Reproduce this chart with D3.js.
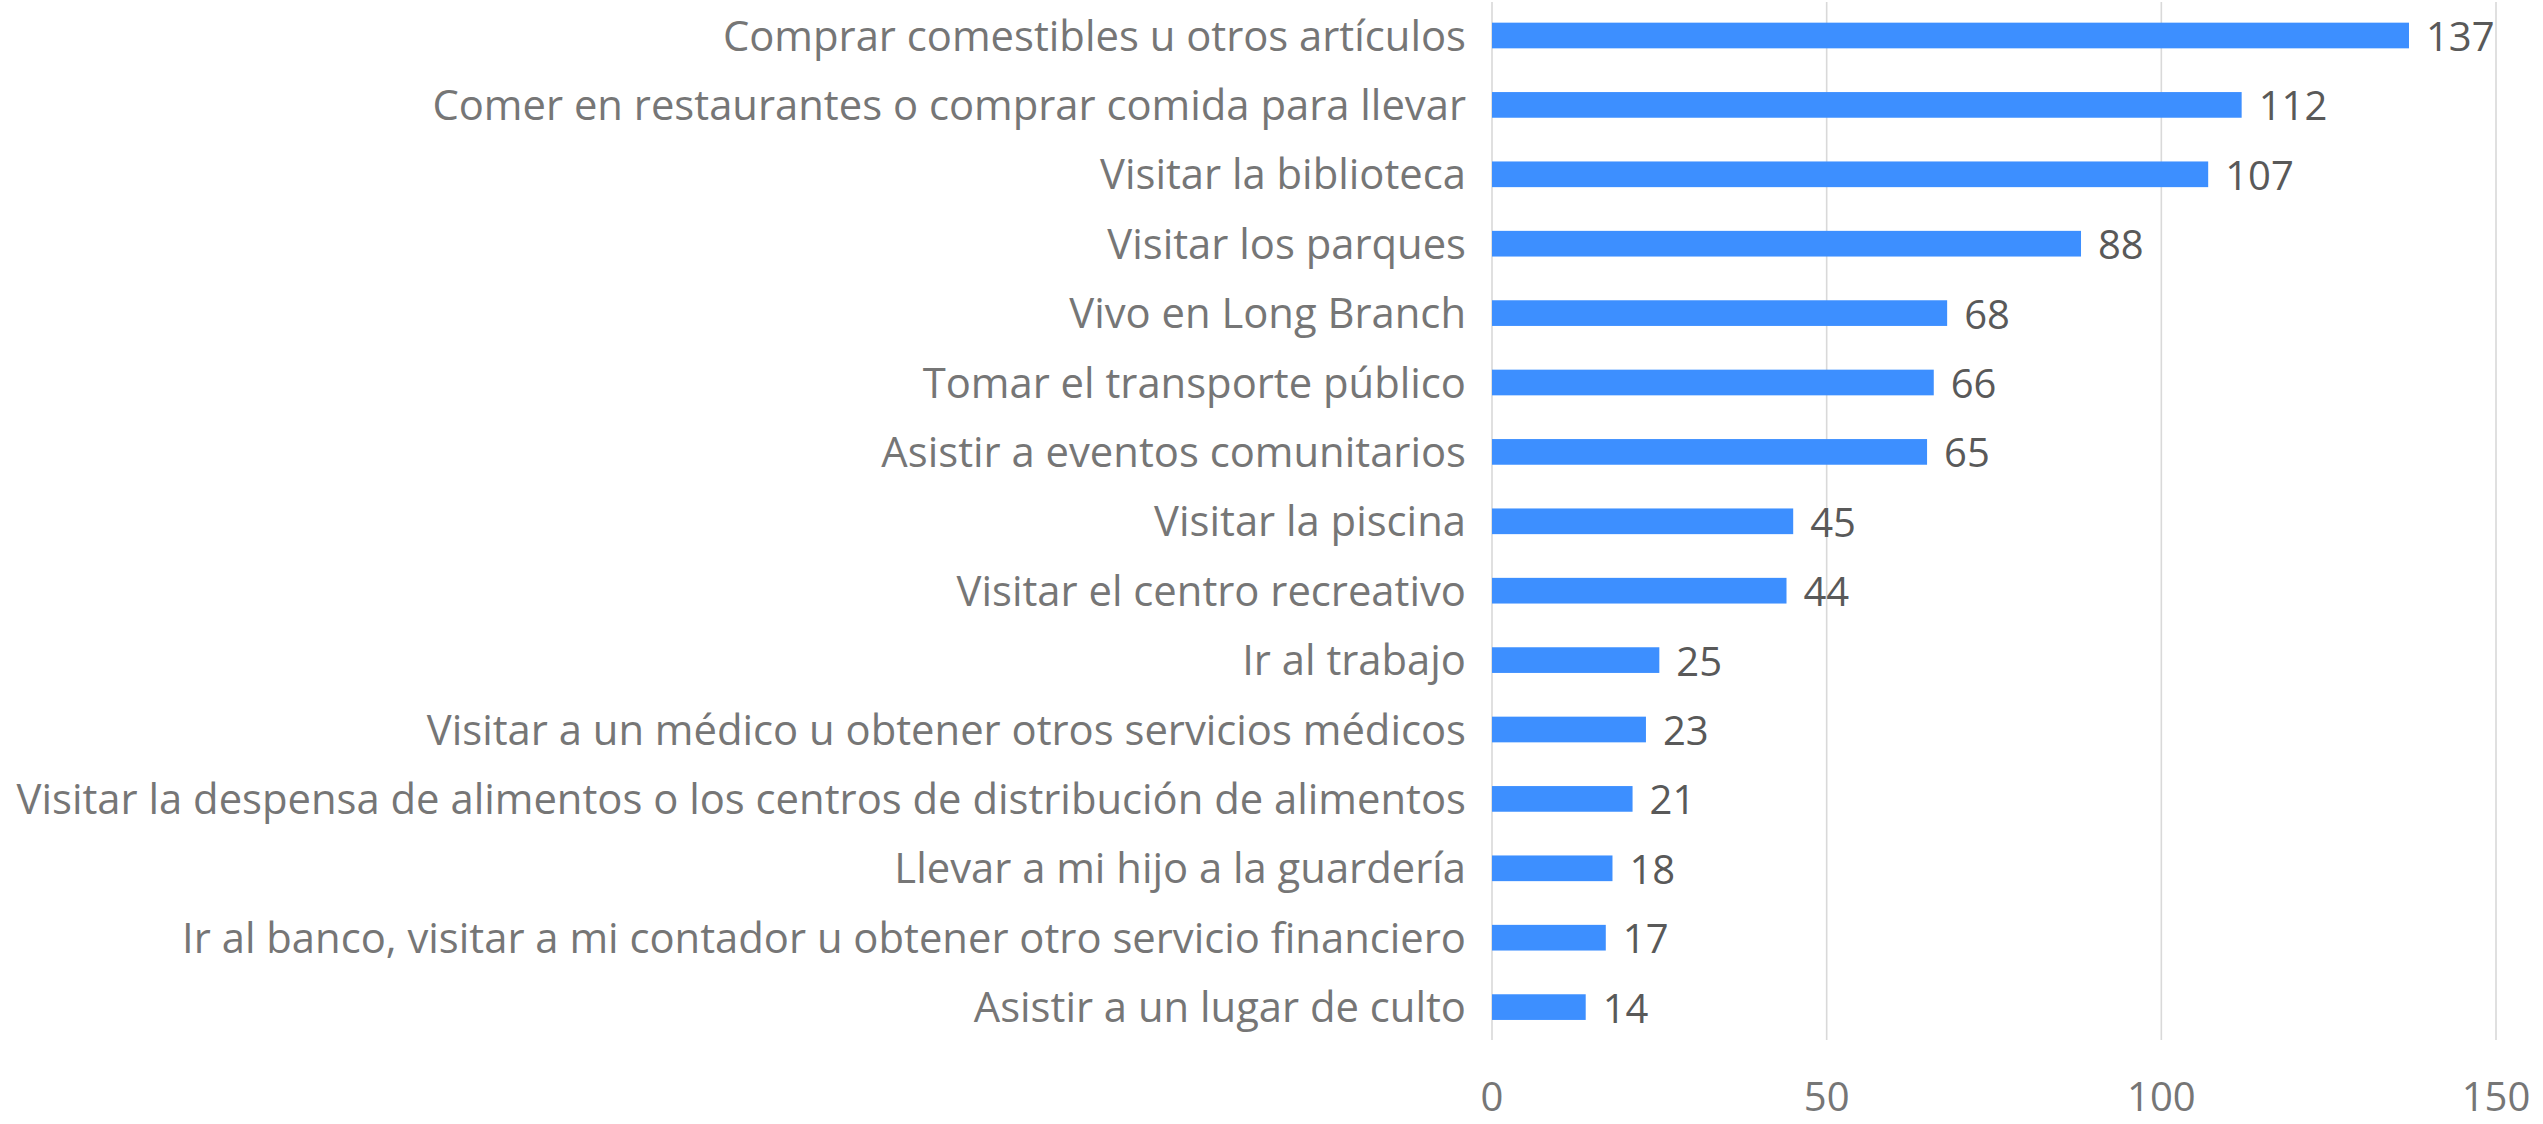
<!DOCTYPE html>
<html>
<head>
<meta charset="utf-8">
<script src="https://cdn.jsdelivr.net/npm/d3@7"></script>
<style>
  html, body { margin: 0; padding: 0; background: #ffffff; }
  svg { display: block; }
</style>
</head>
<body>
<svg id="chart" width="2543" height="1124"></svg>
<script>
const categories = [
  "Comprar comestibles u otros artículos",
  "Comer en restaurantes o comprar comida para llevar",
  "Visitar la biblioteca",
  "Visitar los parques",
  "Vivo en Long Branch",
  "Tomar el transporte público",
  "Asistir a eventos comunitarios",
  "Visitar la piscina",
  "Visitar el centro recreativo",
  "Ir al trabajo",
  "Visitar a un médico u obtener otros servicios médicos",
  "Visitar la despensa de alimentos o los centros de distribución de alimentos",
  "Llevar a mi hijo a la guardería",
  "Ir al banco, visitar a mi contador u obtener otro servicio financiero",
  "Asistir a un lugar de culto"
];
const values = [137, 112, 107, 88, 68, 66, 65, 45, 44, 25, 23, 21, 18, 17, 14];
const tickValues = [0, 50, 100, 150];

const svg = d3.select("#chart");
const font = "'Open Sans', 'Noto Sans', sans-serif";

const x = d3.scaleLinear().domain([0, 150]).range([1492, 2496]);
const y = d3.scaleBand().domain(categories).range([0.8, 1041.8])
  .paddingInner(0.63).paddingOuter(0.315);

// gridlines
svg.append("g").selectAll("line").data(tickValues).join("line")
  .attr("x1", d => x(d)).attr("x2", d => x(d))
  .attr("y1", 2).attr("y2", 1040)
  .attr("stroke", "#d9d9d9").attr("stroke-width", 1.6);

// bars
svg.append("g").selectAll("rect").data(values).join("rect")
  .attr("x", x(0))
  .attr("y", (d, i) => y(categories[i]))
  .attr("width", d => x(d) - x(0))
  .attr("height", y.bandwidth())
  .attr("fill", "#3d8fff");

// value labels
svg.append("g").selectAll("text").data(values).join("text")
  .attr("x", d => x(d) + 17)
  .attr("y", (d, i) => y(categories[i]) + y.bandwidth() / 2 + 1)
  .attr("dy", "0.36em")
  .attr("font-family", font).attr("font-size", 40)
  .attr("fill", "#595959")
  .text(d => d);

// category labels (horizontally condensed to match reference width)
const catG = svg.append("g");
const cats = catG.selectAll("text").data(categories).join("text")
  .attr("x", 0)
  .attr("y", d => y(d) + y.bandwidth() / 2)
  .attr("dy", "0.36em")
  .attr("text-anchor", "end")
  .attr("font-family", font).attr("font-size", 42)
  .attr("fill", "#767676")
  .text(d => d);
let maxW = 0;
cats.each(function () { maxW = Math.max(maxW, this.getComputedTextLength()); });
const targetW = 1450;
const sx = maxW > 0 ? targetW / maxW : 1;
catG.attr("transform", `translate(1466,0) scale(${sx},1)`);

// x axis tick labels
svg.append("g").selectAll("text").data(tickValues).join("text")
  .attr("x", d => x(d))
  .attr("y", 1111)
  .attr("text-anchor", "middle")
  .attr("font-family", font).attr("font-size", 40)
  .attr("fill", "#767676")
  .text(d => d);
</script>
</body>
</html>
